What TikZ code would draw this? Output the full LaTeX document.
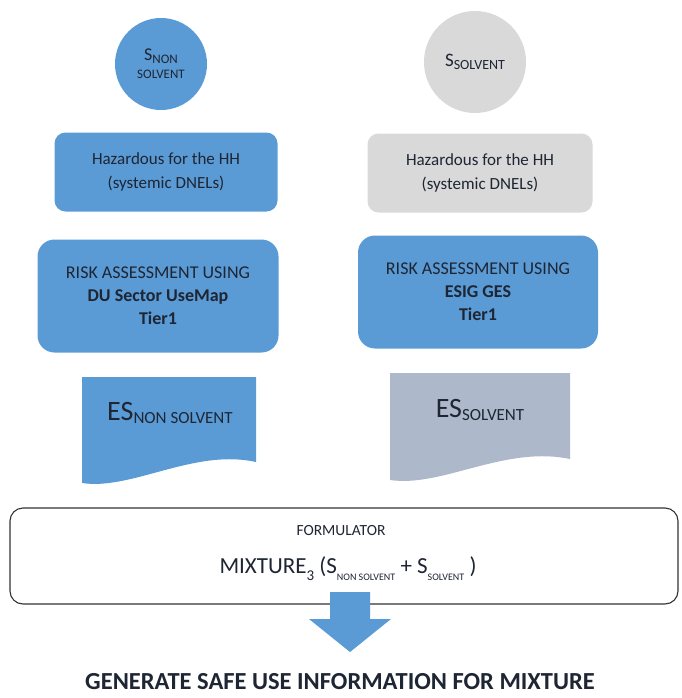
\documentclass[tikz,border=0pt]{standalone}
\usepackage{fontspec}
\setmainfont{Carlito}
\usetikzlibrary{positioning}
\definecolor{colorblue}{HTML}{5B9BD5}
\definecolor{colorgray}{HTML}{D9D9D9}
\definecolor{colordoc}{HTML}{ADB9CA}
\definecolor{colortxt}{HTML}{1E2533}
\tikzset{
  subst/.style={circle, draw=none, inner sep=0pt, align=center},
  hazbox/.style={rectangle, rounded corners=11pt, draw=none,
    minimum width=223pt, minimum height=79pt, align=center,
    font=\fontsize{17}{24}\selectfont},
  riskbox/.style={rectangle, rounded corners=17pt, draw=none,
    minimum width=241pt, minimum height=113pt, align=center,
    font=\fontsize{18}{23}\selectfont},
  doclabel/.style={draw=none, inner sep=0pt},
  formbox/.style={rectangle, rounded corners=13pt, draw=black!80,
    line width=1.1pt, fill=white, minimum width=668pt,
    minimum height=96pt}
}
\newcommand\lowtxt[2]{\raisebox{-0.3em}{\fontsize{#1}{#1}\selectfont #2}}

\begin{document}
\begin{tikzpicture}[x=1pt, y=-1pt, text=colortxt]
\useasboundingbox (0,0) rectangle (681,698);

% substances
\node[subst, fill=colorblue, minimum size=92pt](snon) at (161,64)
{{\fontsize{18}{18}\selectfont S}\lowtxt{13}{NON}\\[6pt]
 {\fontsize{13}{13}\selectfont SOLVENT}};

\node[subst, fill=colorgray, minimum size=102pt](ssol) at (475,62)
{{\fontsize{19}{19}\selectfont S}\lowtxt{14}{SOLVENT}};

% hazards
\node[hazbox, fill=colorblue](hznon) at (166,172)
{Hazardous for the HH\\(systemic DNELs)};

\node[hazbox, fill=colorgray, minimum width=225pt](hzsol) at (480,173)
{Hazardous for the HH\\(systemic DNELs)};

% risk assessment
\node[riskbox, fill=colorblue](ranon) at (158,296)
{RISK ASSESSMENT USING\\ \textbf{DU Sector UseMap}\\ \textbf{Tier1}};

\node[riskbox, fill=colorblue, minimum width=240pt](rasol) at (478,292)
{RISK ASSESSMENT USING\\ \textbf{ESIG GES}\\ \textbf{Tier1}};

% exposure scenarios
\fill[colorblue] (82,377) -- (256,377) -- (256,462)
  .. controls (215,453) and (175,468) .. (135,478)
  .. controls (110,484) and (95,485) .. (82,483) -- cycle;
\node[doclabel](esnon) at (170,413)
{{\fontsize{28}{28}\selectfont ES}\lowtxt{17}{NON SOLVENT}};

\fill[colordoc] (390,373) -- (570,373) -- (570,459)
  .. controls (527,450) and (486,465) .. (445,475)
  .. controls (420,481) and (404,482) .. (390,480) -- cycle;
\node[doclabel](essol) at (480,410)
{{\fontsize{28}{28}\selectfont ES}\lowtxt{17}{SOLVENT}};

% formulator
\node[formbox](form) at (344,556) {};
\node[doclabel, font=\fontsize{15.5}{15.5}\selectfont](fmtitle) at (341,531)
{FORMULATOR};
\node[doclabel, font=\fontsize{23}{23}\selectfont](fmmix) at (348,569)
{MIXTURE\lowtxt{15}{3} (S\lowtxt{10}{NON SOLVENT} + S\lowtxt{10}{SOLVENT} )};

% arrow to result
\fill[colorblue] (330,592) -- (370,592) -- (370,619) -- (391,619)
  -- (350,652) -- (309,619) -- (330,619) -- cycle;

\node[doclabel, font=\fontsize{24.5}{24.5}\bfseries](genr) at (340,682)
{GENERATE SAFE USE INFORMATION FOR MIXTURE};
\end{tikzpicture}
\end{document}
